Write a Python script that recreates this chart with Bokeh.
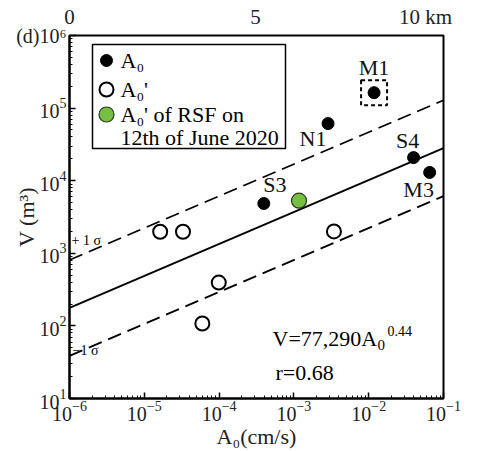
from bokeh.plotting import figure
from bokeh.models import (Label, FixedTicker, LogTickFormatter, Range1d, LinearScale, LinearAxis)
from bokeh.embed import file_html
from bokeh.resources import INLINE
from bokeh.core.properties import value

# ---------------- data ----------------
a0_names = ["S3", "N1", "M1", "S4", "M3"]
a0_A = [3.96e-4, 2.86e-3, 1.18e-2, 3.98e-2, 6.53e-2]
a0_V = [4850.0, 6.12e4, 1.63e5, 2.08e4, 1.30e4]

a0p_A = [1.63e-5, 3.29e-5, 5.97e-5, 9.9e-5, 3.43e-3]
a0p_V = [1980.0, 1980.0, 108.0, 395.0, 2000.0]

rsf_A = [1.17e-3]
rsf_V = [5300.0]

fit_a = 77290.0     # V = 77,290 * A0^0.44
fit_b = 0.44
sigma_log10 = 0.66  # +-1 sigma band (log10 units)

x_decades = [-6, -5, -4, -3, -2, -1]
y_decades = [1, 2, 3, 4, 5, 6]
scale_labels = ["0", "5", "10 km"]
panel_letter = "(d)"
legend_labels = ["A\u2080", "A\u2080'", "A\u2080' of RSF on", "12th of June 2020"]

# label offsets (pixels) for the named A0 points
name_dx = [11, -15, 0, -6, -11]
name_dy = [-19, 15, -25, -17, 17]

FONT = "Liberation Serif"

# frame geometry on the page (canvas starts at page 0,0)
W, H = 478, 451
FL, FT, FW, FH = 69, 35, 374, 363
FB = FT + FH


def page_label(text, X, Y, size, align="left", baseline="middle", color="black"):
    return Label(x=X - FL, y=FB - Y, x_units="screen", y_units="screen", text=text,
                 text_font=FONT, text_font_size=size, text_align=align,
                 text_baseline=baseline, text_color=color)


p = figure(width=W, height=H, x_axis_type="log", y_axis_type="log",
           x_range=(10.0 ** x_decades[0], 10.0 ** x_decades[-1]),
           y_range=(10.0 ** y_decades[0], 10.0 ** y_decades[-1]),
           output_backend="svg", toolbar_location=None,
           min_border_left=FL, min_border_right=W - FL - FW,
           min_border_top=FT, min_border_bottom=H - FB)
p.background_fill_color = "white"
p.border_fill_color = "white"
p.outline_line_color = "black"
p.outline_line_width = 2
p.xgrid.visible = False
p.ygrid.visible = False

# pixel coordinate system of the frame (for legend symbols and scale-bar texts)
p.extra_x_ranges = {"px": Range1d(0, FW)}
p.extra_y_ranges = {"px": Range1d(0, FH)}
p.extra_x_scales = {"px": LinearScale()}
p.extra_y_scales = {"px": LinearScale()}

xt = [10.0 ** e for e in x_decades]
xm = [k * 10.0 ** e for e in x_decades[:-1] for k in range(2, 10)]
yt = [10.0 ** e for e in y_decades]
ym = [k * 10.0 ** e for e in y_decades[:-1] for k in range(2, 10)]
p.xaxis.ticker = FixedTicker(ticks=xt, minor_ticks=xm)
p.yaxis.ticker = FixedTicker(ticks=yt, minor_ticks=ym)
p.xaxis.formatter = LogTickFormatter()
p.yaxis.formatter = LogTickFormatter()

for ax in (p.xaxis[0], p.yaxis[0]):
    ax.axis_line_width = 2
    ax.axis_line_color = "black"
    ax.major_tick_in = 6
    ax.major_tick_out = 0
    ax.minor_tick_in = 3
    ax.minor_tick_out = 0
    ax.major_tick_line_width = 1.5
    ax.minor_tick_line_width = 1
    ax.major_label_text_font = FONT
    ax.major_label_text_font_size = "20px"
    ax.major_label_text_color = "#222222"
    ax.axis_label_text_font = FONT
    ax.axis_label_text_font_size = "22px"
    ax.axis_label_text_font_style = "normal"
    ax.axis_label_text_color = "#222222"
p.xaxis.axis_label = "A\u2080(cm/s)"
p.yaxis.axis_label = "V (m\u00b3)"
p.xaxis.major_label_standoff = 2
p.yaxis.major_label_standoff = 3
p.xaxis.axis_label_standoff = 0
# panel letter shares the line of the top tick label (wider label -> pull axis title in)
p.yaxis.major_label_overrides = {yt[-1]: panel_letter + "10\u2076"}
p.yaxis.axis_label_standoff = -26

# scale-bar texts of the map panel above (top axis in pixel units)
scale_pos = [69 - FL, 255 - FL, 425 - FL]
top_ax = LinearAxis(x_range_name="px", ticker=FixedTicker(ticks=scale_pos),
                    major_label_overrides={scale_pos[i]: scale_labels[i] for i in range(3)},
                    axis_line_color=None, major_tick_line_color=None, minor_tick_line_color=None,
                    major_tick_in=0, major_tick_out=0, minor_tick_in=0, minor_tick_out=0,
                    major_label_text_font=FONT, major_label_text_font_size="21px",
                    major_label_text_color="#222222", major_label_standoff=7)
p.add_layout(top_ax, "above")

# regression line and +-1 sigma band, from the stated equation
line_A = [10.0 ** x_decades[0], 10.0 ** x_decades[-1]]
line_V = [fit_a * a ** fit_b for a in line_A]
up_V = [v * 10 ** sigma_log10 for v in line_V]
lo_V = [v / 10 ** sigma_log10 for v in line_V]
p.line(line_A, line_V, line_color="black", line_width=2)
p.line(line_A, up_V, line_color="black", line_width=1.8, line_dash="14 7")
p.line(line_A, lo_V, line_color="black", line_width=1.8, line_dash="14 7")

# points
BLACK = dict(size=12, fill_color="black", line_color="black")
OPEN = dict(size=14, fill_color="white", line_color="black", line_width=2)
GREEN = dict(size=15, fill_color="#77bf43", line_color="#2b3a1e", line_width=1.2)
p.scatter(a0_A, a0_V, **BLACK)
p.scatter(a0p_A, a0p_V, **OPEN)
p.scatter(rsf_A, rsf_V, **GREEN)

# dashed box around M1
i_m1 = a0_names.index("M1")
p.rect(x=[a0_A[i_m1]], y=[a0_V[i_m1]], width=26, height=25, width_units="screen",
       height_units="screen", fill_color=None, line_color="black", line_width=2, line_dash="4 3")

# point names
p.text(x=a0_A, y=a0_V, text=a0_names, x_offset=name_dx, y_offset=name_dy,
       text_font=value(FONT), text_font_size="22px", text_align="center",
       text_baseline="middle", text_color="#111111")

# legend (drawn in frame pixel coordinates)
LX0, LX1, LY0, LY1 = 92 - FL, 285 - FL, FB - 148, FB - 44
p.quad(left=[LX0], right=[LX1], bottom=[LY0], top=[LY1], fill_color="white",
       line_color="black", line_width=1.5, x_range_name="px", y_range_name="px")
sym_x = 106 - FL
p.scatter([sym_x], [FB - 60], x_range_name="px", y_range_name="px", **BLACK)
p.scatter([sym_x], [FB - 89], x_range_name="px", y_range_name="px", **OPEN)
p.scatter([sym_x], [FB - 114], x_range_name="px", y_range_name="px", **GREEN)
for txt, yy in zip(legend_labels, [60, 89, 114, 137]):
    p.add_layout(page_label(txt, 120, yy, "22px"))

# sigma labels
p.add_layout(page_label("+ 1 \u03c3", 71, 240, "14px"))
p.add_layout(page_label("\u22121 \u03c3", 72, 350, "14px"))

# equation
p.add_layout(page_label("V=77,290A", 272, 338, "22px", baseline="alphabetic"))
p.add_layout(page_label("0", 377, 344, "15px", baseline="alphabetic"))
p.add_layout(page_label("0.44", 387, 330, "14px", baseline="alphabetic"))
p.add_layout(page_label("r=0.68", 275, 372, "22px", baseline="alphabetic"))

open("out.html", "w").write(file_html(p, INLINE))
